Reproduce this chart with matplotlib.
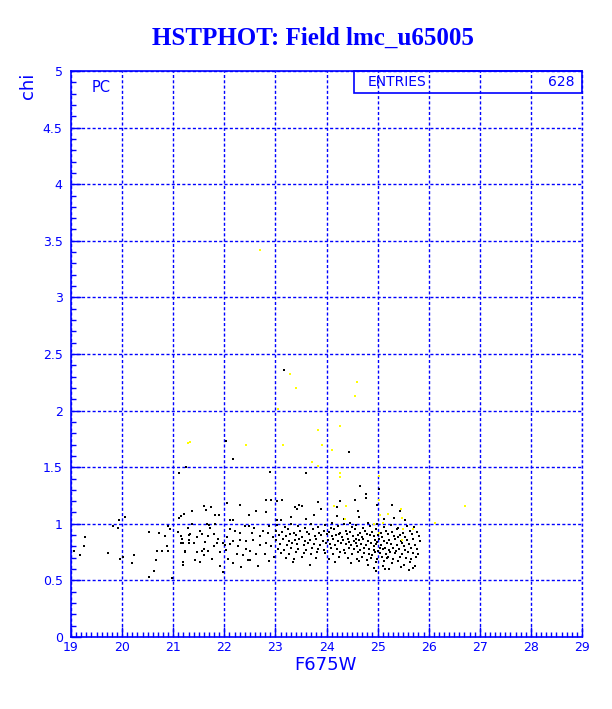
import matplotlib
matplotlib.use("Agg")
import matplotlib.pyplot as plt
import numpy as np
from matplotlib.patches import Rectangle
from matplotlib.ticker import MultipleLocator, FuncFormatter

# Values (F675W magnitude, chi)
TITLE = "HSTPHOT: Field lmc_u65005"
X_LABEL = "F675W"
Y_LABEL = "chi"
ENTRIES = "628"

# black points: accepted stars
black_points = [
    # 19 - 21
    (19.05, 0.76), (19.27, 0.88), (19.25, 0.80), (19.18, 0.72), (19.72, 0.74),
    (19.82, 0.98), (19.94, 1.03), (19.92, 0.96), (20.06, 1.06), (19.96, 0.69),
    (20.02, 0.71), (20.19, 0.65), (20.23, 0.72), (20.53, 0.93), (20.53, 0.53),
    (20.62, 0.58), (20.66, 0.68), (20.68, 0.76), (20.72, 0.92), (20.78, 0.76),
    (20.84, 0.89), (20.88, 0.80), (20.90, 0.76), (20.90, 0.98), (20.94, 0.95),
    (20.98, 0.52),
    # 21 - 23
    (21.11, 1.05), (21.15, 1.07), (21.21, 1.09), (21.09, 0.93), (21.15, 0.89),
    (21.17, 0.87), (21.15, 0.83), (21.19, 0.83), (21.23, 0.75), (21.19, 0.64),
    (21.31, 0.90), (21.31, 0.83),
    (21.60, 1.16), (21.74, 1.15), (21.37, 1.11), (21.64, 1.12), (21.82, 1.08),
    (21.90, 1.08), (22.06, 1.18), (22.30, 1.17), (22.17, 1.03), (22.11, 1.03),
    (22.49, 1.08), (22.63, 1.11), (22.81, 1.21), (22.82, 1.10), (22.92, 1.21),
    (21.33, 0.91), (21.31, 0.86), (21.40, 0.83), (21.24, 0.76), (21.46, 0.75),
    (21.56, 0.76), (21.60, 0.78), (21.53, 0.94), (21.56, 0.91), (21.72, 0.96),
    (21.79, 0.91), (21.69, 0.89), (21.85, 0.83), (21.69, 0.76), (21.92, 0.75),
    (21.98, 0.83), (22.01, 0.81), (21.43, 0.68), (21.52, 0.66), (21.75, 0.69),
    (21.20, 0.66), (21.92, 0.63), (22.08, 0.69), (22.11, 0.95), (22.21, 0.94),
    (22.30, 0.92), (22.40, 0.98), (22.49, 0.98), (22.30, 0.86), (22.17, 0.85),
    (22.43, 0.85), (22.56, 0.86), (22.69, 0.89), (22.76, 0.94), (22.85, 0.92),
    (22.87, 0.98), (22.59, 0.96), (22.69, 0.81), (22.82, 0.83), (22.43, 0.78),
    (22.37, 0.72), (22.50, 0.76), (22.63, 0.73), (22.51, 0.68), (22.46, 0.68),
    (22.24, 0.73), (22.17, 0.65), (22.79, 0.73), (22.05, 0.88), (22.11, 0.82),
    (21.36, 1.00), (21.66, 1.00), (21.71, 0.99), (21.82, 1.00), (21.28, 0.96),
    (21.47, 0.88), (21.62, 0.84), (21.88, 0.87), (22.04, 0.77), (22.27, 0.80),
    (22.55, 0.92), (22.95, 0.88), (22.92, 0.80), (22.97, 0.71), (22.88, 0.67),
    (22.65, 0.63), (22.33, 0.62), (21.98, 0.57), (21.60, 0.72), (21.80, 0.80),
    # outliers above the band
    (21.11, 1.45), (21.26, 1.50), (22.03, 1.73), (22.17, 1.57), (22.89, 1.46),
    (23.16, 2.36), (23.59, 1.45), (24.45, 1.63), (24.65, 1.33), (25.02, 1.31),
    # 23 - 25.9, upper edge
    (23.04, 1.03), (23.10, 1.03), (23.39, 1.15), (23.47, 1.17), (23.42, 1.13),
    (23.30, 1.06), (23.12, 1.21), (23.04, 1.20), (23.53, 1.16), (23.84, 1.19),
    (23.89, 1.13), (24.20, 1.15), (24.26, 1.20), (24.56, 1.21), (24.77, 1.26),
    (24.77, 1.23), (24.62, 1.11), (24.64, 1.06), (24.98, 1.17), (25.29, 1.17),
    (25.44, 1.11), (25.33, 1.05), (25.54, 1.03), (24.20, 1.07), (24.10, 1.01),
    (24.46, 1.01), (24.82, 1.01), (23.60, 1.04), (23.75, 1.08), (24.35, 1.04),
    (25.12, 1.04),
    # dense band
    (23.04, 0.99), (23.18, 0.97), (23.31, 1.00), (23.45, 0.98), (23.58, 0.96),
    (23.70, 1.00), (23.83, 0.97), (23.97, 0.99), (24.08, 0.96), (24.22, 0.98),
    (24.35, 1.00), (24.49, 0.97), (24.58, 0.99), (24.71, 0.96), (24.86, 0.98),
    (24.99, 1.00), (25.12, 0.97), (25.26, 0.99), (25.40, 0.96), (25.57, 0.98),
    (25.72, 0.97),
    (23.01, 0.94), (23.12, 0.93), (23.24, 0.95), (23.36, 0.92), (23.49, 0.94),
    (23.61, 0.93), (23.74, 0.95), (23.86, 0.92), (23.95, 0.94), (24.05, 0.93),
    (24.14, 0.95), (24.27, 0.92), (24.38, 0.94), (24.46, 0.93), (24.55, 0.95),
    (24.66, 0.92), (24.76, 0.94), (24.89, 0.93), (24.96, 0.95), (25.06, 0.92),
    (25.17, 0.94), (25.29, 0.93), (25.37, 0.95), (25.50, 0.92), (25.63, 0.94),
    (25.78, 0.93),
    (23.07, 0.90), (23.20, 0.89), (23.29, 0.91), (23.41, 0.90), (23.53, 0.88),
    (23.66, 0.91), (23.77, 0.89), (23.90, 0.90), (24.01, 0.91), (24.10, 0.89),
    (24.19, 0.90), (24.31, 0.88), (24.41, 0.91), (24.51, 0.89), (24.61, 0.90),
    (24.69, 0.88), (24.80, 0.91), (24.92, 0.89), (25.01, 0.90), (25.09, 0.88),
    (25.21, 0.91), (25.32, 0.89), (25.44, 0.90), (25.54, 0.88), (25.67, 0.91),
    (25.81, 0.89), (24.25, 0.91), (24.85, 0.90),
    (23.02, 0.86), (23.14, 0.87), (23.27, 0.85), (23.38, 0.86), (23.47, 0.87),
    (23.57, 0.85), (23.68, 0.86), (23.80, 0.87), (23.93, 0.85), (24.03, 0.86),
    (24.12, 0.87), (24.23, 0.85), (24.33, 0.86), (24.43, 0.87), (24.53, 0.85),
    (24.63, 0.86), (24.72, 0.87), (24.82, 0.85), (24.94, 0.86), (25.03, 0.87),
    (25.13, 0.85), (25.23, 0.86), (25.34, 0.87), (25.46, 0.85), (25.58, 0.86),
    (25.70, 0.87), (25.83, 0.85), (24.58, 0.87), (24.98, 0.84), (25.40, 0.88),
    (23.09, 0.82), (23.22, 0.81), (23.33, 0.83), (23.43, 0.82), (23.55, 0.81),
    (23.64, 0.83), (23.76, 0.82), (23.88, 0.81), (23.99, 0.83), (24.07, 0.82),
    (24.17, 0.81), (24.29, 0.83), (24.39, 0.82), (24.48, 0.81), (24.57, 0.83),
    (24.67, 0.82), (24.78, 0.81), (24.88, 0.83), (24.97, 0.82), (25.07, 0.81),
    (25.18, 0.83), (25.27, 0.82), (25.38, 0.81), (25.48, 0.83), (25.61, 0.82),
    (25.74, 0.81), (24.44, 0.84), (24.92, 0.80), (25.15, 0.79), (25.52, 0.80),
    (23.05, 0.78), (23.16, 0.77), (23.30, 0.79), (23.44, 0.78), (23.59, 0.77),
    (23.72, 0.79), (23.84, 0.78), (23.96, 0.77), (24.09, 0.79), (24.20, 0.78),
    (24.34, 0.77), (24.45, 0.79), (24.54, 0.78), (24.65, 0.77), (24.74, 0.79),
    (24.84, 0.78), (24.93, 0.77), (25.04, 0.79), (25.11, 0.78), (25.22, 0.77),
    (25.31, 0.79), (25.42, 0.78), (25.53, 0.77), (25.65, 0.79), (25.77, 0.78),
    (24.60, 0.80), (25.00, 0.76), (25.36, 0.76),
    (23.11, 0.74), (23.26, 0.73), (23.40, 0.75), (23.56, 0.74), (23.69, 0.73),
    (23.82, 0.75), (23.98, 0.74), (24.13, 0.73), (24.26, 0.75), (24.37, 0.74),
    (24.50, 0.73), (24.62, 0.75), (24.73, 0.74), (24.83, 0.73), (24.95, 0.75),
    (25.05, 0.74), (25.16, 0.73), (25.25, 0.75), (25.35, 0.74), (25.47, 0.73),
    (25.59, 0.75), (25.69, 0.74), (25.80, 0.73), (24.90, 0.72), (25.20, 0.71),
    (23.21, 0.70), (23.37, 0.69), (23.52, 0.71), (23.79, 0.70), (24.04, 0.69),
    (24.24, 0.71), (24.42, 0.70), (24.59, 0.69), (24.70, 0.71), (24.87, 0.70),
    (24.99, 0.69), (25.08, 0.71), (25.19, 0.70), (25.30, 0.69), (25.43, 0.71),
    (25.55, 0.70), (25.66, 0.69), (25.76, 0.71), (24.79, 0.68), (25.12, 0.67),
    (23.35, 0.66), (23.67, 0.64), (24.16, 0.66), (24.47, 0.65), (24.64, 0.67),
    (24.81, 0.64), (24.97, 0.66), (25.10, 0.63), (25.28, 0.65), (25.39, 0.67),
    (25.51, 0.64), (25.63, 0.66), (25.73, 0.63), (25.45, 0.62),
    (24.92, 0.61), (25.14, 0.60), (25.22, 0.60), (25.62, 0.59), (25.69, 0.61),
    (24.97, 0.58),
]

# yellow points: rejected / flagged stars
yellow_points = [
    (22.70, 3.42), (23.29, 2.32), (23.40, 2.20), (24.59, 2.25), (24.55, 2.13),
    (23.06, 2.01), (23.83, 1.83), (24.26, 1.86), (21.33, 1.72), (21.28, 1.71),
    (22.42, 1.70), (23.14, 1.70), (23.91, 1.70), (24.11, 1.65), (23.72, 1.55),
    (23.83, 1.51), (24.26, 1.45), (24.26, 1.41), (25.03, 1.42), (24.15, 1.16),
    (24.38, 1.16), (24.36, 1.04), (25.02, 1.21), (25.05, 1.08), (25.20, 1.09),
    (25.10, 1.01), (25.45, 1.13), (25.48, 1.05), (25.49, 0.95), (25.69, 0.95),
    (25.02, 0.92), (25.48, 0.86), (24.93, 1.00), (26.72, 1.16), (26.12, 1.01),
]

BLUE = "#0000ff"

fig = plt.figure(figsize=(6.12, 7.09), dpi=100)
fig.patch.set_facecolor("white")
ax = fig.add_axes([71 / 612, 72 / 709, 511 / 612, 566 / 709])

bx, by = zip(*black_points)
yx, yy = zip(*yellow_points)
# crisp pixel squares like the original raster output
ax.scatter(bx, by, s=4.5, marker="s", color="black", linewidths=0, zorder=3,
           antialiased=False)
ax.scatter(yx, yy, s=4.5, marker="s", color="#ffff00", linewidths=0, zorder=4,
           antialiased=False)

ax.set_xlim(19, 29)
ax.set_ylim(0, 5)
ax.xaxis.set_major_locator(MultipleLocator(1))
ax.xaxis.set_minor_locator(MultipleLocator(0.1))
ax.yaxis.set_major_locator(MultipleLocator(0.5))
ax.yaxis.set_minor_locator(MultipleLocator(0.1))
ax.yaxis.set_major_formatter(FuncFormatter(lambda v, p: f"{v:g}"))
ax.xaxis.set_major_formatter(FuncFormatter(lambda v, p: f"{v:g}"))

ax.grid(True, which="major", color=BLUE, linestyle=(0, (2.2, 1.6)), linewidth=1.0)
ax.set_axisbelow(True)
# right edge of the frame is only the dotted grid line at 29
ax.axvline(29, color=BLUE, linestyle=(0, (2.2, 1.6)), linewidth=1.0, clip_on=False)
ax.tick_params(which="major", direction="in", length=7, width=1, color=BLUE,
               labelcolor=BLUE, labelsize=9, top=False, right=False, pad=6)
ax.tick_params(axis="x", which="major", pad=3)
ax.tick_params(which="minor", direction="in", length=3.5, width=1, color=BLUE,
               top=False, right=False)
for lab in ax.get_xticklabels() + ax.get_yticklabels():
    lab.set_family("DejaVu Sans")

for side in ["left", "bottom", "top"]:
    ax.spines[side].set_color(BLUE)
    ax.spines[side].set_linewidth(1.2)
ax.spines["right"].set_visible(False)

# stats box
ax.add_patch(Rectangle((24.54, 4.805), 29 - 24.54, 0.195, fill=False,
                       edgecolor=BLUE, linewidth=1.2, clip_on=False, zorder=5))
ax.text(24.8, 4.9, "ENTRIES", color=BLUE, fontsize=10, va="center",
        ha="left", zorder=6)
ax.text(28.85, 4.9, ENTRIES, color=BLUE, fontsize=10, va="center",
        ha="right", zorder=6)
ax.text(19.41, 4.85, "PC", color=BLUE, fontsize=10.5, va="center", ha="left")

fig.text(0.512, 1 - 38 / 709, TITLE, ha="center", va="center", fontsize=18,
         fontweight="bold", family="Liberation Serif", color=BLUE)
fig.text(325 / 612, 1 - 665 / 709, X_LABEL, ha="center", va="center",
         fontsize=13, color=BLUE)
fig.text(28 / 612, 1 - 86 / 709, Y_LABEL, ha="center", va="center",
         fontsize=13, color=BLUE, rotation=90)

fig.savefig("out.png", dpi=100)
